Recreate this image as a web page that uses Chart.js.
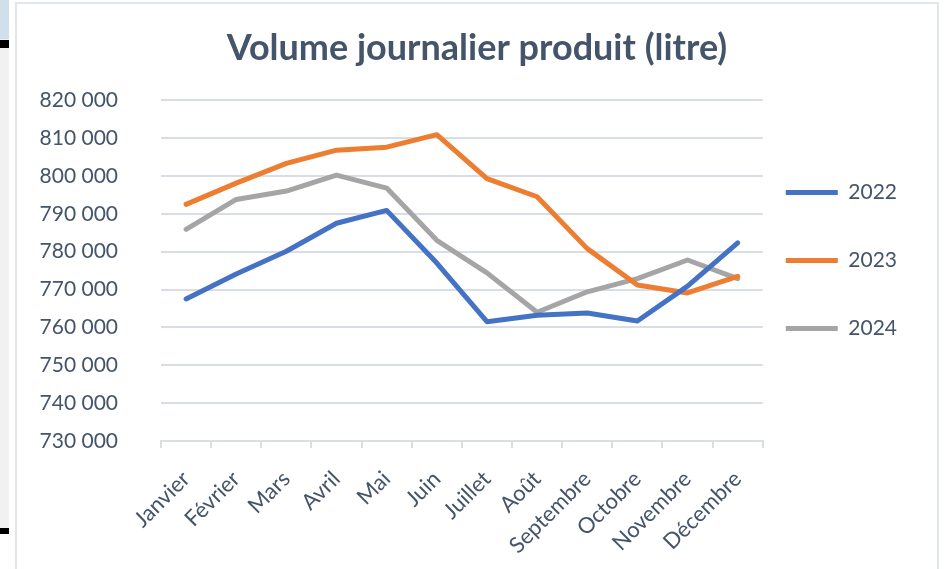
<!DOCTYPE html>
<html lang="fr">
<head>
<meta charset="utf-8">
<title>Volume journalier produit</title>
<script src="https://cdn.jsdelivr.net/npm/chart.js@4"></script>
<style>
    html, body { margin: 0; padding: 0; background: #fff; }
    body { width: 945px; height: 569px; position: relative; overflow: hidden; font-family: Lato, sans-serif; }
    /* bande grise a gauche (bord de la capture) */
    #strip { position: absolute; left: 0; top: 0; width: 9px; height: 528px; background: #f1f1f1; }
    #strip-top { position: absolute; left: 0; top: 0; width: 9px; height: 39px; background: #d0e0ea; }
    #mark1 { position: absolute; left: 0; top: 40px; width: 9px; height: 8px; background: #000; }
    #mark2 { position: absolute; left: 0; top: 528px; width: 9px; height: 6px; background: #000; }
    #frame { position: absolute; left: 15px; top: 2px; width: 920px; height: 580px; border: 2px solid #e1e6ee; background: #fff; }
    #wrap { position: absolute; left: 18px; top: 4px; width: 918px; height: 565px; }
</style>
</head>
<body>
<div id="strip"></div>
<div id="strip-top"></div>
<div id="mark1"></div>
<div id="mark2"></div>
<div id="frame"></div>
<div id="wrap"><canvas id="volChart"></canvas></div>

<script>
// Donnees (litres / jour)
const mois = ['Janvier', 'Février', 'Mars', 'Avril', 'Mai', 'Juin', 'Juillet', 'Août', 'Septembre', 'Octobre', 'Novembre', 'Décembre'];
const vol2022 = [767500, 774100, 780100, 787500, 790900, 777000, 761500, 763200, 763800, 761700, 770900, 782300];
const vol2023 = [792500, 798100, 803300, 806800, 807600, 810900, 799300, 794500, 780800, 771200, 769100, 773500];
const vol2024 = [785900, 793800, 796000, 800200, 796800, 783000, 774400, 764000, 769400, 772900, 777800, 772900];

const yMin = 730000;
const yMax = 820000;
const yStep = 10000;

const textColor = '#44546a';
const gridColor = '#d9dee6';

// 820000 -> "820 000"
function formatVolume(v) {
    return String(v).replace(/\B(?=(\d{3})+(?!\d))/g, ' ');
}

function serie(label, data, color) {
    return {
        label: label,
        data: data,
        borderColor: color,
        backgroundColor: color,
        borderWidth: 5,
        borderCapStyle: 'round',
        borderJoinStyle: 'round',
        pointRadius: 0,
        tension: 0
    };
}

// decale la legende pour coller a la position du modele
const legendNudge = {
    id: 'legendNudge',
    afterLayout(chart) {
        const lg = chart.legend;
        if (!lg) return;
        const dx = -24, dy = -10;
        lg.left += dx; lg.right += dx;
        lg.top += dy; lg.bottom += dy;
    }
};

const ctx = document.getElementById('volChart').getContext('2d');
new Chart(ctx, {
    type: 'line',
    data: {
        labels: mois,
        datasets: [
            serie('2022', vol2022, '#4472c4'),
            serie('2023', vol2023, '#ed7d31'),
            serie('2024', vol2024, '#a5a5a5')
        ]
    },
    plugins: [legendNudge],
    options: {
        responsive: true,
        maintainAspectRatio: false,
        animation: false,
        layout: { padding: { left: 5, right: 5, top: 0, bottom: 0 } },
        plugins: {
            title: {
                display: true,
                text: 'Volume journalier produit (litre)',
                color: textColor,
                font: { family: 'Lato', size: 36, weight: 'bold' },
                padding: { top: 23, bottom: 30 }
            },
            legend: {
                position: 'right',
                fullSize: false,
                labels: {
                    color: textColor,
                    font: { family: 'Lato', size: 21 },
                    usePointStyle: true,
                    pointStyle: 'line',
                    pointStyleWidth: 52,
                    padding: 47
                }
            },
            tooltip: { enabled: false }
        },
        scales: {
            x: {
                offset: true,
                grid: {
                    offset: true,
                    drawOnChartArea: false,
                    drawTicks: true,
                    tickLength: 7,
                    color: gridColor,
                    lineWidth: 2
                },
                border: { display: true, color: gridColor, width: 2 },
                ticks: {
                    color: textColor,
                    font: { family: 'Lato', size: 22 },
                    minRotation: 45,
                    maxRotation: 45,
                    autoSkip: false,
                    padding: 18
                },
                afterFit: scale => { scale.height = 128; }
            },
            y: {
                min: yMin,
                max: yMax,
                grid: { color: gridColor, lineWidth: 2, drawTicks: true, tickLength: 43, tickColor: 'rgba(0,0,0,0)' },
                border: { display: false },
                ticks: {
                    stepSize: yStep,
                    color: textColor,
                    font: { family: 'Lato', size: 21 },
                    padding: 0,
                    callback: v => formatVolume(v)
                },
                afterFit: scale => { scale.width = 138; }
            }
        }
    }
});
</script>
</body>
</html>
